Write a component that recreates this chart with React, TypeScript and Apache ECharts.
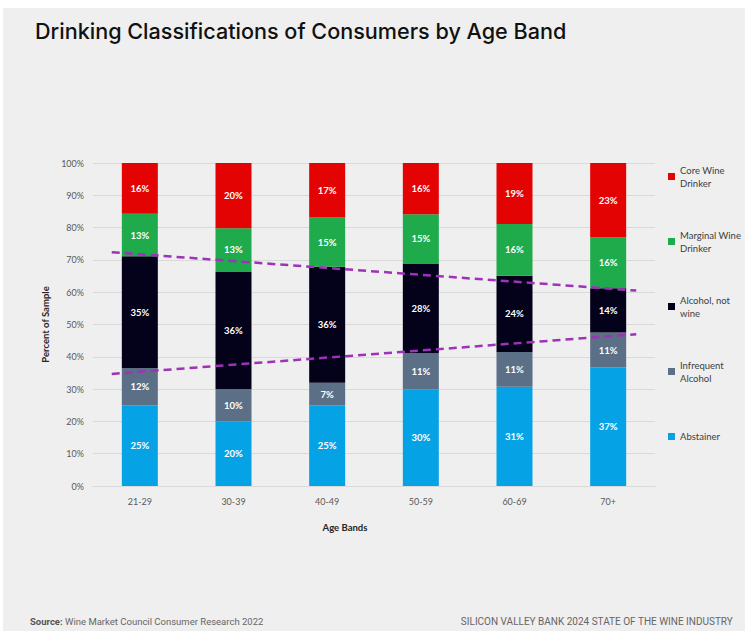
import React, { useEffect, useRef } from "react";
import * as echarts from "echarts";

const categories = ["21-29", "30-39", "40-49", "50-59", "60-69", "70+"];
const abstainer = [24.9, 20.0, 24.9, 29.9, 30.7, 36.7];
const infrequentAlcohol = [11.6, 10.0, 7.1, 11.2, 10.8, 10.8];
const alcoholNotWine = [34.6, 36.4, 35.9, 27.8, 23.6, 13.7];
const marginalWine = [13.2, 13.4, 15.2, 15.2, 16.0, 15.8];
const coreWine = [15.7, 20.2, 16.9, 15.9, 18.9, 23.0];
const yTicks = [0, 10, 20, 30, 40, 50, 60, 70, 80, 90, 100];
// dashed trend lines: [category position, percent]
const upperTrend = [[-0.3, 72.4], [5.3, 60.5]];
const lowerTrend = [[-0.3, 34.7], [5.3, 47.0]];

const legendLabels: Record<string, string> = {
  "Core Wine Drinker": "Core Wine\nDrinker",
  "Marginal Wine Drinker": "Marginal Wine\nDrinker",
  "Alcohol, not wine": "Alcohol, not\nwine",
  "Infrequent Alcohol": "Infrequent\nAlcohol",
  Abstainer: "Abstainer",
};

const FONT = "Lato";

export default function App() {
  const ref = useRef<HTMLDivElement>(null);
  useEffect(() => {
    if (!ref.current) return;
    const chart = echarts.init(ref.current, null, { renderer: "svg" });
    const barLabel = {
      show: true,
      position: "inside",
      color: "#ffffff",
      fontSize: 9.5,
      fontWeight: "bold",
      fontFamily: FONT,
      formatter: (p: any) => Math.round(p.value) + "%",
    };
    const mkBar = (name: string, data: number[], color: string) => ({
      name,
      type: "bar",
      stack: "total",
      barWidth: 36,
      data,
      itemStyle: { color },
      label: barLabel,
      xAxisIndex: 0,
      yAxisIndex: 0,
      z: 2,
    });
    const mkTrend = (data: number[][]) => ({
      type: "line",
      data,
      xAxisIndex: 1,
      yAxisIndex: 0,
      symbol: "none",
      silent: true,
      z: 5,
      lineStyle: { color: "#9f32b8", width: 2.5, type: [8, 5] },
    });
    chart.setOption({
      animation: false,
      backgroundColor: "#efefef",
      title: {
        text: "Drinking Classifications of Consumers by Age Band",
        left: 32,
        top: 12,
        padding: 0,
        textStyle: {
          fontFamily: "Inter",
          fontSize: 21.6,
          fontWeight: 500,
          color: "#111111",
        },
      },
      legend: {
        orient: "vertical",
        left: 665,
        top: 149,
        padding: 0,
        itemWidth: 7,
        itemHeight: 7,
        itemGap: 26,
        icon: "rect",
        formatter: (n: string) => legendLabels[n] || n,
        textStyle: {
          fontFamily: FONT,
          fontSize: 9.5,
          color: "#404040",
          lineHeight: 13,
          padding: [13, 0, 0, 0],
        },
        data: [
          { name: "Core Wine Drinker" },
          { name: "Marginal Wine Drinker" },
          { name: "Alcohol, not wine" },
          { name: "Infrequent Alcohol" },
          { name: "Abstainer", textStyle: { padding: [13, 0, 13, 0] } },
        ],
      },
      grid: { left: 90, top: 155, width: 562, height: 323, containLabel: false },
      xAxis: [
        {
          type: "category",
          data: categories,
          axisTick: { show: false },
          axisLine: { show: true, lineStyle: { color: "#d9d9d9" } },
          axisLabel: { color: "#595959", fontSize: 9, fontFamily: FONT, margin: 11 },
          name: "Age Bands",
          nameLocation: "middle",
          nameGap: 36,
          nameTextStyle: {
            fontFamily: FONT,
            fontSize: 9.5,
            fontWeight: "bold",
            color: "#262626",
            padding: [0, 58, 0, 0],
          },
        },
        { type: "value", min: -0.5, max: 5.5, show: false },
      ],
      yAxis: [
        {
          type: "value",
          min: 0,
          max: 100,
          interval: 10,
          axisLabel: {
            color: "#595959",
            fontSize: 9,
            fontFamily: FONT,
            margin: 9,
            formatter: (v: number) => (yTicks.includes(v) ? v + "%" : ""),
          },
          splitLine: { lineStyle: { color: "#d9d9d9" } },
          axisLine: { show: false },
          axisTick: { show: false },
          name: "Percent of Sample",
          nameLocation: "middle",
          nameGap: 37,
          nameTextStyle: {
            fontFamily: FONT,
            fontSize: 9.5,
            fontWeight: "bold",
            color: "#262626",
          },
        },
      ],
      series: [
        mkBar("Abstainer", abstainer, "#05a3e6"),
        mkBar("Infrequent Alcohol", infrequentAlcohol, "#5b6f86"),
        mkBar("Alcohol, not wine", alcoholNotWine, "#03021a"),
        mkBar("Marginal Wine Drinker", marginalWine, "#1faa4c"),
        mkBar("Core Wine Drinker", coreWine, "#e30303"),
        mkTrend(upperTrend),
        mkTrend(lowerTrend),
      ],
      graphic: [
        {
          type: "text",
          left: 27,
          top: 608,
          style: {
            text: "{b|Source:} Wine Market Council Consumer Research 2022",
            fontFamily: "Roboto",
            fontSize: 9.5,
            fill: "#666666",
            rich: {
              b: { fontFamily: "Roboto", fontSize: 9.5, fontWeight: "bold", fill: "#555555" },
            },
          },
        },
        {
          type: "text",
          right: 12,
          top: 608,
          style: {
            text: "SILICON VALLEY BANK 2024 STATE OF THE WINE INDUSTRY",
            fontFamily: "Roboto",
            fontSize: 10,
            fill: "#666666",
          },
        },
      ],
    });
    return () => chart.dispose();
  }, []);
  return (
    <div style={{ position: "absolute", left: 0, top: 0, width: 745, height: 631, background: "#ffffff" }}>
      <div ref={ref} style={{ position: "absolute", left: 3, top: 8, width: 742, height: 623 }} />
    </div>
  );
}
